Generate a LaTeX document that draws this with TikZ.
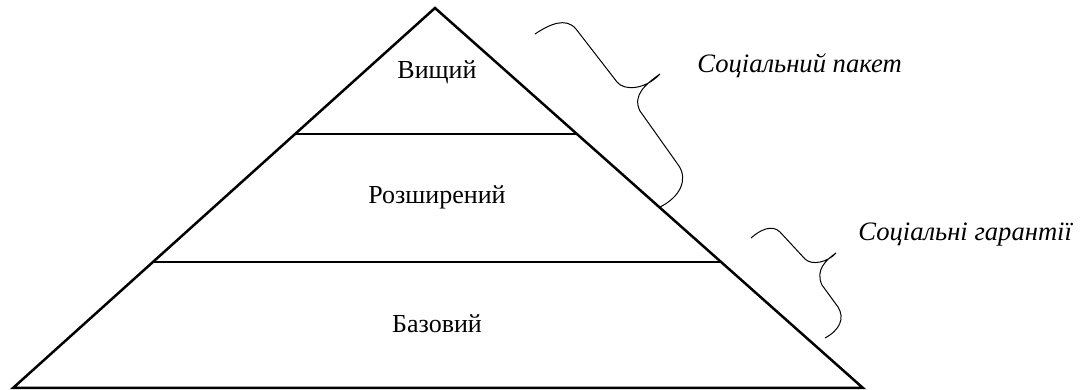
\documentclass[tikz,border=0pt]{standalone}
\usepackage{fontspec}
\setmainfont{Liberation Serif}
\usetikzlibrary{calc}
\begin{document}
\begin{tikzpicture}[x=0.5pt,y=-0.5pt,
  edge/.style={line width=1.25pt,line join=miter},
  brace/.style={line width=0.5pt},
  level/.style={font=\fontsize{13}{15}\selectfont,inner sep=0pt},
  tag/.style={font=\fontsize{13.3}{15}\selectfont\itshape,inner sep=0pt,anchor=west}]
\useasboundingbox (0,0) rectangle (1084,390);
\coordinate (apex) at (435,8);
\coordinate (bl) at (13,388);
\coordinate (br) at (863,388);
\coordinate (l1) at ($(apex)!0.3316!(bl)$);
\coordinate (r1) at ($(apex)!0.3316!(br)$);
\coordinate (l2) at ($(apex)!0.6684!(bl)$);
\coordinate (r2) at ($(apex)!0.6684!(br)$);
\draw[edge] (apex) -- (bl) -- (br) -- cycle;
\draw[edge] (l1) -- (r1);
\draw[edge] (l2) -- (r2);
\node[level] (top) at (437,72) {Вищий};
\node[level] (mid) at (437,197) {Розширений};
\node[level] (base) at (437,324) {Базовий};
\node[tag] (pack) at (697,66) {Соціальний пакет};
\node[tag] (guar) at (858,235) {Соціальні гарантії};
\draw[brace] (535,34) .. controls (550,24) and (566,17) .. (576,29)
  -- (617,82) .. controls (624,91) and (645,90) .. (660,74)
  .. controls (646,84) and (632,95) .. (640,111)
  -- (679,166) .. controls (688,180) and (680,197) .. (660,207);
\draw[brace] (751,238) .. controls (760,230) and (772,224) .. (780,232)
  -- (805,259) .. controls (812,266) and (828,262) .. (836,253)
  .. controls (826,260) and (815,270) .. (822,285)
  -- (838,307) .. controls (845,318) and (840,330) .. (825,338);
\end{tikzpicture}
\end{document}
